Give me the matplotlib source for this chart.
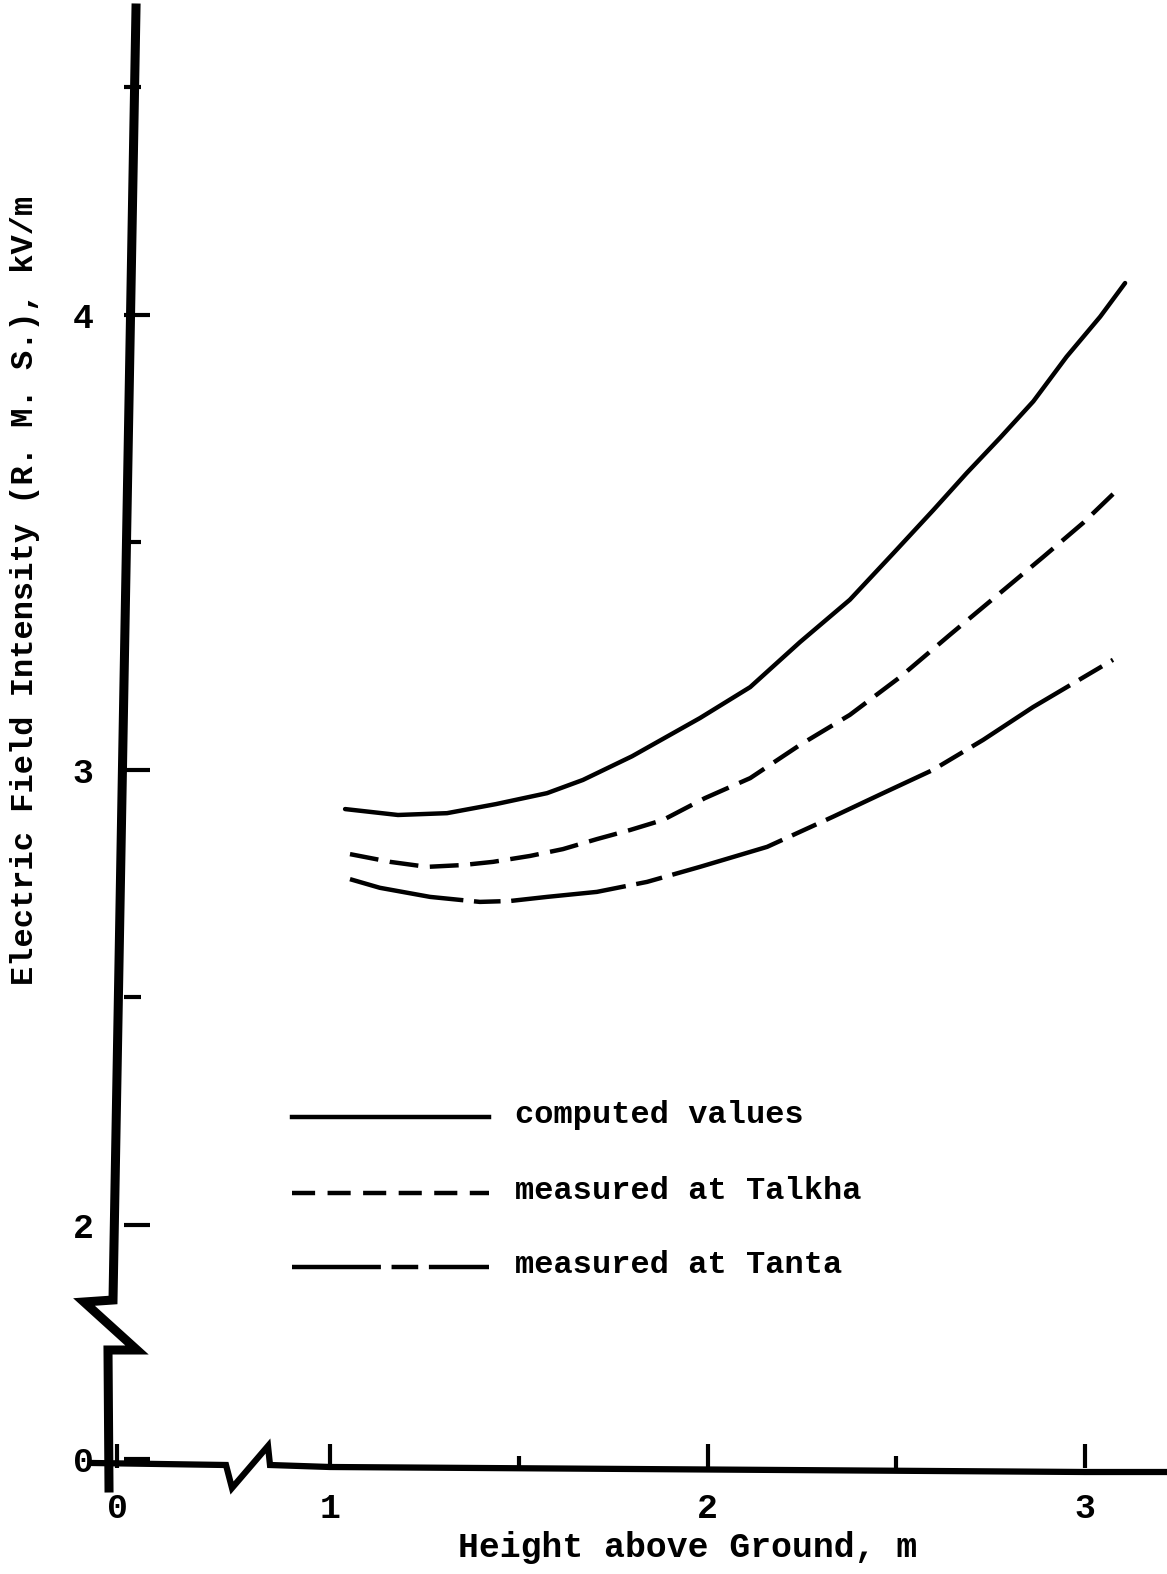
import matplotlib
matplotlib.use("Agg")
import matplotlib.pyplot as plt
from matplotlib.lines import Line2D

# ---------------- data ----------------
height_computed = [1.04, 1.18, 1.31, 1.44, 1.575, 1.67, 1.80, 1.98, 2.113, 2.245,
                   2.377, 2.492, 2.598, 2.686, 2.775, 2.863, 2.951, 3.040, 3.106]
field_computed = [2.914, 2.901, 2.905, 2.925, 2.949, 2.978, 3.030, 3.114, 3.182, 3.281,
                  3.374, 3.476, 3.571, 3.652, 3.730, 3.810, 3.908, 3.996, 4.070]

height_talkha = [1.053, 1.159, 1.257, 1.352, 1.432, 1.530, 1.617, 1.707, 1.795, 1.882,
                 1.993, 2.113, 2.245, 2.377, 2.510, 2.642, 2.775, 2.889, 2.995, 3.085]
field_talkha = [2.815, 2.798, 2.787, 2.791, 2.798, 2.811, 2.826, 2.848, 2.868, 2.890,
                2.938, 2.982, 3.055, 3.121, 3.204, 3.297, 3.389, 3.468, 3.543, 3.615]

height_tanta = [1.053, 1.132, 1.265, 1.397, 1.477, 1.575, 1.707, 1.840, 1.980, 2.158,
                2.332, 2.465, 2.597, 2.730, 2.862, 3.074]
field_tanta = [2.760, 2.741, 2.721, 2.710, 2.712, 2.721, 2.732, 2.754, 2.787, 2.831,
               2.897, 2.949, 3.000, 3.066, 3.138, 3.242]

series_labels = ["computed values", "measured at Talkha", "measured at Tanta"]

x_major_ticks = [1, 2, 3]
x_major_labels = ["1", "2", "3"]
x_minor_ticks = [1.5, 2.5]
y_major_ticks = [2, 3, 4]
y_major_labels = ["2", "3", "4"]
y_minor_ticks = [2.5, 3.5, 4.5]
broken_zero_label = "0"
x_zero_pos = 0.436     # where the broken x axis puts its "0"
y_zero_pos = 1.485     # where the broken y axis puts its "0"

xlabel = "Height above Ground, m"
ylabel = "Electric Field Intensity (R. M. S.), kV/m"

# ---------------- styling ----------------
FONT = ["Liberation Mono", "DejaVu Sans Mono"]
plt.rcParams["font.family"] = FONT
plt.rcParams["font.weight"] = "bold"

W, H = 1167, 1574
fig = plt.figure(figsize=(W / 100, H / 100), dpi=100)
ax = fig.add_axes([0, 0, 1, 1])
ax.set_xlim(0.126, 3.217)
ax.set_ylim(1.233, 4.692)
ax.patch.set_alpha(0)

def fx(px):
    return px / W

def fy(py):
    return 1 - py / H

# hide spines, keep ticks at the drawn axis positions
for s in ax.spines.values():
    s.set_visible(False)
ax.spines["left"].set_position(("axes", fx(124)))
ax.spines["bottom"].set_position(("axes", fy(1468)))

ax.set_xticks([x_zero_pos] + x_major_ticks)
ax.set_xticklabels([broken_zero_label] + x_major_labels)
ax.set_xticks(x_minor_ticks, minor=True)
ax.set_yticks([y_zero_pos] + y_major_ticks)
ax.set_yticklabels([broken_zero_label] + y_major_labels)
ax.set_yticks(y_minor_ticks, minor=True)

ax.tick_params(axis="both", which="both", direction="in", width=3.0, colors="black")
ax.tick_params(axis="x", which="major", length=17, pad=17, labelsize=25)
ax.tick_params(axis="x", which="minor", length=9)
ax.tick_params(axis="y", which="major", length=19, pad=22, labelsize=25)
ax.tick_params(axis="y", which="minor", length=12)

# hand drawn axis lines with breaks (decoration, in axes fraction)
yaxis_px = [(136, 8), (113, 1300), (84, 1302), (137, 1350), (108, 1350), (109, 1488)]
ax.add_line(Line2D([fx(p[0]) for p in yaxis_px], [fy(p[1]) for p in yaxis_px],
                   transform=ax.transAxes, color="black", lw=6.5,
                   solid_joinstyle="miter", clip_on=False))
xaxis_px = [(93, 1463), (226, 1465), (232, 1488), (268, 1446), (270, 1465),
            (330, 1467), (1085, 1472), (1167, 1472)]
ax.add_line(Line2D([fx(p[0]) for p in xaxis_px], [fy(p[1]) for p in xaxis_px],
                   transform=ax.transAxes, color="black", lw=4.5,
                   solid_joinstyle="miter", clip_on=False))

# ---------------- curves ----------------
LW = 3.2
TALKHA_DASH = (6.5, 2.6)
TANTA_DASH = (26, 2.4, 6, 2.4)

ax.plot(height_computed, field_computed, color="black", lw=LW,
        solid_capstyle="round", solid_joinstyle="round")
ax.plot(height_talkha, field_talkha, color="black", lw=LW, dashes=TALKHA_DASH,
        dash_joinstyle="round")
ax.plot(height_tanta, field_tanta, color="black", lw=LW, dashes=TANTA_DASH,
        dash_joinstyle="round")

# ---------------- legend (hand placed, like the original) ----------------
leg_rows = [(1117, None), (1193, (5.2, 2.8)), (1267, (20, 2.4, 6, 2.4))]
for (py, dash), lab in zip(leg_rows, series_labels):
    kw = {} if dash is None else {"dashes": dash}
    ax.add_line(Line2D([fx(292), fx(489)], [fy(py), fy(py)], transform=ax.transAxes,
                       color="black", lw=LW, **kw))
    ax.text(fx(515), fy(py - 2), lab, transform=ax.transAxes, ha="left", va="center",
            fontsize=23, fontweight="bold")

# ---------------- axis titles ----------------
ax.set_xlabel(xlabel, fontsize=25, fontweight="bold")
ax.xaxis.set_label_coords(fx(688), fy(1531))
ax.set_ylabel(ylabel, fontsize=23, fontweight="bold")
ax.yaxis.set_label_coords(fx(40), fy(590))

fig.savefig("out.png", dpi=100, facecolor="white")
